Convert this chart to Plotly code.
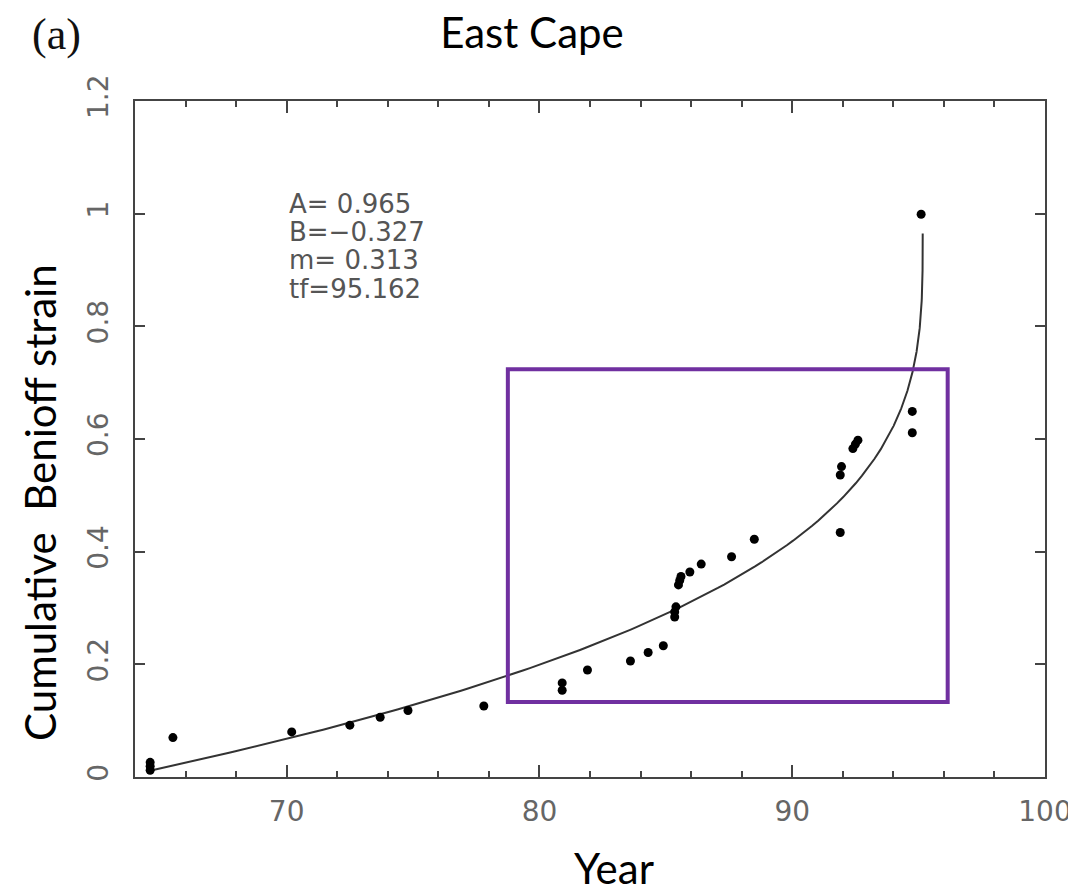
import numpy as np
import plotly.graph_objects as go

# Observed cumulative Benioff strain (normalised)
years = [64.6, 64.6, 64.6, 65.5, 70.2, 72.5, 73.7, 74.8, 77.8,
         80.9, 80.9, 81.9, 83.6, 84.3, 84.9,
         85.35, 85.35, 85.4, 85.5, 85.55, 85.6, 85.95, 86.4, 87.6, 88.5,
         91.9, 91.9, 91.95, 92.4, 92.5, 92.6, 94.75, 94.75, 95.1]
strain = [0.012, 0.019, 0.026, 0.070, 0.080, 0.092, 0.106, 0.118, 0.126,
          0.154, 0.167, 0.190, 0.206, 0.221, 0.233,
          0.284, 0.293, 0.302, 0.341, 0.349, 0.356, 0.364, 0.378, 0.391, 0.422,
          0.434, 0.536, 0.551, 0.583, 0.591, 0.598, 0.611, 0.649, 0.999]

# Fit parameters printed on the chart
A = 0.965
B = -0.327
m = 0.313
tf = 95.162

# Highlight box (years, strain)
box_x = [78.75, 96.15]
box_y = [0.133, 0.724]

x_ticks = [70, 80, 90, 100]
y_ticks = [0, 0.2, 0.4, 0.6, 0.8, 1, 1.2]
y_tick_labels = ["0", "0.2", "0.4", "0.6", "0.8", "1", "1.2"]

# model curve eps(t) = A + B (tf - t)^m
curve_t = np.concatenate([np.linspace(64.5, 94.0, 120), np.linspace(94.0, tf, 200)])
curve_eps = A + B * np.power(np.clip(tf - curve_t, 0, None), m)

# page body has an 8px margin: the figure is offset by (8, 8) in the window
OFF = 8
W, H = 1076 - OFF, 895 - OFF
ML, MT = 135 - OFF, 101 - OFF
MR = W - (1045 - OFF)
MB = H - (777 - OFF)
PW, PH = W - ML - MR, H - MT - MB


def px(xp):
    return (xp - OFF - ML) / PW


def py(yp):
    return 1 - (yp - OFF - MT) / PH


fig = go.Figure()
fig.add_trace(go.Scatter(x=curve_t, y=curve_eps, mode="lines",
                         line=dict(color="#333333", width=2), showlegend=False,
                         hoverinfo="skip"))
fig.add_trace(go.Scatter(x=years, y=strain, mode="markers",
                         marker=dict(color="black", size=9), showlegend=False))

fig.add_shape(type="rect", xref="x", yref="y",
              x0=box_x[0], x1=box_x[1], y0=box_y[0], y1=box_y[1],
              line=dict(color="#7030A0", width=4))

param_lines = ["A= %.3f" % A, "B=\u2212%.3f" % abs(B), "m= %.3f" % m, "tf=%.3f" % tf]
param_y = [1.018, 0.968, 0.917, 0.866]
for txt, yy in zip(param_lines, param_y):
    fig.add_annotation(x=70.0, y=yy, xref="x", yref="y", text=txt, showarrow=False,
                       xanchor="left", yanchor="middle",
                       font=dict(family="DejaVu Sans", size=26, color="#555555"))

fig.add_annotation(x=px(56), y=py(34), xref="paper", yref="paper",
                   text="(a)", showarrow=False, xanchor="center", yanchor="middle",
                   font=dict(family="Liberation Serif", size=44, color="#111111"))

fig.add_annotation(x=px(614), y=py(895), xref="paper", yref="paper",
                   text="Year", showarrow=False, xanchor="center", yanchor="bottom",
                   font=dict(family="Lato", size=42, color="black"))

fig.add_annotation(x=px(40), y=py(503), xref="paper", yref="paper",
                   text="Cumulative  Benioff strain", showarrow=False, textangle=-90,
                   xanchor="center", yanchor="middle",
                   font=dict(family="Lato", size=42, color="black"))

axis_common = dict(showline=True, linecolor="#444444", linewidth=2, mirror="ticks",
                   ticks="inside", tickcolor="#444444", showgrid=False, zeroline=False,
                   automargin=False,
                   tickfont=dict(family="DejaVu Sans", size=28, color="#666666"))

fig.update_layout(
    width=W, height=H,
    margin=dict(l=ML, r=MR, t=MT, b=MB),
    plot_bgcolor="white", paper_bgcolor="white",
    title=dict(text="East Cape", x=(532 - OFF) / W, xref="container", xanchor="center",
               y=1 - (33 - OFF) / H, yref="container", yanchor="middle",
               font=dict(family="Lato", size=42, color="black")),
    xaxis=dict(range=[64, 100], tickvals=x_ticks, ticklen=12, tickwidth=2,
               minor=dict(dtick=2, ticks="inside", ticklen=6, tickcolor="#444444", tickwidth=1.5),
               ticklabelstandoff=8,
               **axis_common),
    yaxis=dict(range=[0, 1.2], tickvals=y_ticks, ticktext=y_tick_labels, ticklen=10,
               tickwidth=2, tickangle=-90, ticklabelstandoff=14,
               **axis_common),
)

fig.write_html("out.html")
